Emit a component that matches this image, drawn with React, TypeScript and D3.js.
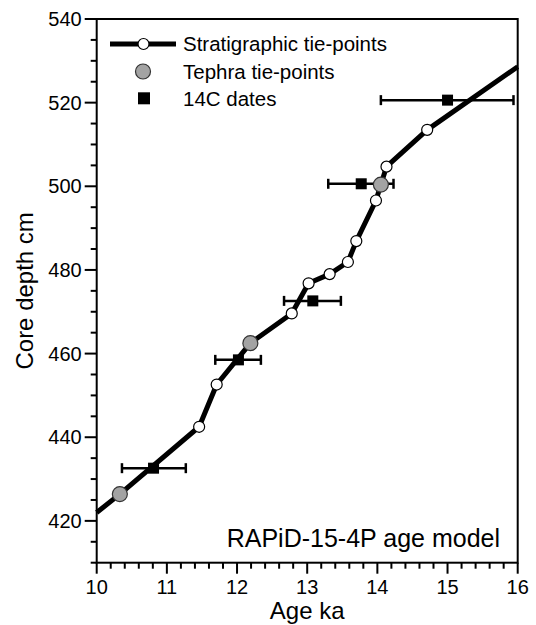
import React from "react";
import * as d3 from "d3";

// ---- data ----
const stratAges = [11.46, 11.71, 12.78, 13.02, 13.32, 13.58, 13.7, 13.98, 14.13, 14.71];
const stratDepths = [442.5, 452.6, 469.6, 476.8, 479.0, 481.9, 486.9, 496.6, 504.7, 513.5];
const tephraAges = [10.33, 12.19, 14.05];
const tephraDepths = [426.4, 462.5, 500.4];
const c14Ages = [10.81, 12.02, 13.08, 13.77, 15.0];
const c14Depths = [432.6, 458.5, 472.6, 500.6, 520.6];
const c14Min = [10.36, 11.69, 12.67, 13.3, 14.05];
const c14Max = [11.27, 12.34, 13.48, 14.23, 15.94];
const lineEnds = [
  [10.0, 422.0],
  [16.0, 528.6],
];
const xTicks = [10, 11, 12, 13, 14, 15, 16];
const yTicks = [420, 440, 460, 480, 500, 520, 540];
const legendLabels = ["Stratigraphic tie-points", "Tephra tie-points", "14C dates"];
const annotation = "RAPiD-15-4P age model";
const xTitle = "Age ka";
const yTitle = "Core depth cm";

const W = 536;
const H = 625;
const FONT = "'Liberation Sans', Arial, Helvetica, sans-serif";

export default function App() {
  const x = d3.scaleLinear().domain([10, 16]).range([96.7, 517.7]);
  const y = d3.scaleLinear().domain([410, 540]).range([562.7, 19]);

  const linePts: [number, number][] = [
    lineEnds[0] as [number, number],
    ...stratAges.map((a, i) => [a, stratDepths[i]] as [number, number]),
    ...tephraAges.map((a, i) => [a, tephraDepths[i]] as [number, number]),
    lineEnds[1] as [number, number],
  ].sort((p, q) => p[1] - q[1]);

  const line = d3
    .line<[number, number]>()
    .x((d) => x(d[0]))
    .y((d) => y(d[1]));

  const xMinor = d3.range(10, 16.0001, 0.2).filter((v) => Math.abs(v - Math.round(v)) > 1e-6);
  const yMinor = d3.range(410, 540.001, 5).filter((v) => v % 20 !== 0);

  const x0 = x(10), x1 = x(16), yTop = y(540), yBot = y(410);
  const sq = 11;

  return (
    <svg
      width={W}
      height={H}
      style={{ position: "absolute", left: 0, top: 0, background: "#fff" }}
      fontFamily={FONT}
    >
      <rect x={0} y={0} width={W} height={H} fill="#fff" />
      {/* frame */}
      <rect x={x0} y={yTop} width={x1 - x0} height={yBot - yTop} fill="none" stroke="#000" strokeWidth={2} />
      {/* y ticks */}
      {yTicks.map((t) => (
        <g key={"yt" + t}>
          <line x1={x0 - 12} x2={x0} y1={y(t)} y2={y(t)} stroke="#000" strokeWidth={2} />
          <text x={x0 - 15} y={y(t)} dy="0.36em" textAnchor="end" fontSize={20}>
            {t}
          </text>
        </g>
      ))}
      {yMinor.map((t) => (
        <line key={"ym" + t} x1={x0 - 6} x2={x0} y1={y(t)} y2={y(t)} stroke="#000" strokeWidth={2} />
      ))}
      {/* x ticks */}
      {xTicks.map((t) => (
        <g key={"xt" + t}>
          <line x1={x(t)} x2={x(t)} y1={yBot} y2={yBot + 11} stroke="#000" strokeWidth={2} />
          <text x={x(t)} y={yBot + 31} textAnchor="middle" fontSize={20}>
            {t}
          </text>
        </g>
      ))}
      {xMinor.map((t) => (
        <line key={"xm" + t.toFixed(1)} x1={x(t)} x2={x(t)} y1={yBot} y2={yBot + 6} stroke="#000" strokeWidth={2} />
      ))}
      {/* axis titles */}
      <text x={(x0 + x1) / 2} y={619} textAnchor="middle" fontSize={24}>
        {xTitle}
      </text>
      <text transform={`translate(33,${(yTop + yBot) / 2}) rotate(-90)`} textAnchor="middle" fontSize={24}>
        {yTitle}
      </text>

      {/* age model line */}
      <path d={line(linePts) || ""} fill="none" stroke="#000" strokeWidth={5} strokeLinejoin="round" />

      {/* 14C error bars */}
      {c14Ages.map((a, i) => (
        <g key={"eb" + i} stroke="#000" strokeWidth={2.5}>
          <line x1={x(c14Min[i])} x2={x(c14Max[i])} y1={y(c14Depths[i])} y2={y(c14Depths[i])} />
          <line x1={x(c14Min[i])} x2={x(c14Min[i])} y1={y(c14Depths[i]) - 5} y2={y(c14Depths[i]) + 5} />
          <line x1={x(c14Max[i])} x2={x(c14Max[i])} y1={y(c14Depths[i]) - 5} y2={y(c14Depths[i]) + 5} />
        </g>
      ))}
      {c14Ages.map((a, i) => (
        <rect key={"sq" + i} x={x(a) - sq / 2} y={y(c14Depths[i]) - sq / 2} width={sq} height={sq} fill="#000" />
      ))}
      {/* strat points */}
      {stratAges.map((a, i) => (
        <circle key={"st" + i} cx={x(a)} cy={y(stratDepths[i])} r={5.5} fill="#fff" stroke="#000" strokeWidth={1.2} />
      ))}
      {/* tephra points */}
      {tephraAges.map((a, i) => (
        <circle key={"te" + i} cx={x(a)} cy={y(tephraDepths[i])} r={7.5} fill="#a3a3a3" stroke="#333" strokeWidth={1.2} />
      ))}

      {/* legend */}
      <line x1={110} x2={176} y1={44} y2={44} stroke="#000" strokeWidth={5} />
      <circle cx={143.5} cy={44} r={5.5} fill="#fff" stroke="#000" strokeWidth={1.2} />
      <circle cx={143} cy={71.5} r={7.5} fill="#a3a3a3" stroke="#333" strokeWidth={1.2} />
      <rect x={144 - 6} y={98.3 - 6} width={12} height={12} fill="#000" />
      {legendLabels.map((l, i) => (
        <text key={"lg" + i} x={183} y={44 + i * 27.2} dy="0.36em" fontSize={20.5}>
          {l}
        </text>
      ))}

      {/* annotation */}
      <text x={500} y={547} textAnchor="end" fontSize={25}>
        {annotation}
      </text>
    </svg>
  );
}
